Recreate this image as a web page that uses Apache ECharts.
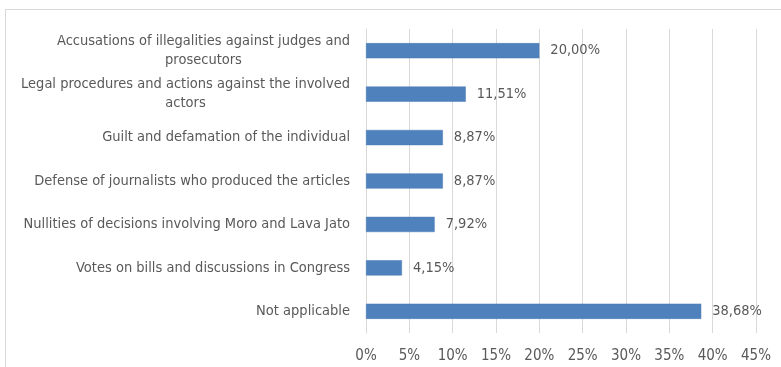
<!DOCTYPE html>
<html>
<head>
<meta charset="utf-8">
<script src="https://cdn.jsdelivr.net/npm/echarts@6/dist/echarts.min.js"></script>
<style>
  html, body { margin: 0; padding: 0; background: #fff; }
  #chart { width: 781px; height: 367px; }
</style>
</head>
<body>
<div id="chart"></div>
<script>
// Topics, listed top to bottom
const categories = [
  'Accusations of illegalities against judges and\nprosecutors',
  'Legal procedures and actions against the involved\nactors',
  'Guilt and defamation of the individual',
  'Defense of journalists who produced the articles',
  'Nullities of decisions involving Moro and Lava Jato',
  'Votes on bills and discussions in Congress',
  'Not applicable'
];
// Share of items per topic, in percent
const shares = [20.00, 11.51, 8.87, 8.87, 7.92, 4.15, 38.68];
// Axis ticks (percent)
const tickMin = 0, tickMax = 45, tickStep = 5;

const FONT = "'DejaVu Sans Condensed', 'Open Sans', sans-serif";
const TEXT = '#595959';
const GRID = '#d9d9d9';

const chart = echarts.init(document.getElementById('chart'), null, { renderer: 'canvas' });
chart.setOption({
  animation: false,
  backgroundColor: '#ffffff',
  graphic: [{
    type: 'rect',
    shape: { x: 5.5, y: 9.5, width: 800, height: 400 },
    style: { fill: 'none', stroke: GRID, lineWidth: 1 },
    silent: true
  }],
  grid: { left: 366, right: 25, top: 29, bottom: 34, containLabel: false },
  xAxis: {
    type: 'value',
    min: tickMin, max: tickMax, interval: tickStep,
    axisLine: { show: false },
    axisTick: { show: false },
    splitLine: { show: true, lineStyle: { color: GRID, width: 1 } },
    axisLabel: {
      color: TEXT, fontFamily: FONT, fontSize: 15, margin: 16,
      formatter: v => v + '%'
    }
  },
  yAxis: {
    type: 'category',
    inverse: true,
    data: categories,
    axisLine: { show: true, lineStyle: { color: GRID } },
    axisTick: { show: false },
    axisLabel: {
      color: TEXT, fontFamily: FONT, fontSize: 14.5, margin: 16,
      align: 'right', lineHeight: 19,
      // each line centred inside the label block
      formatter: v => v.split('\n').map(s => '{c|' + s + '}').join('\n'),
      rich: {
        c: { align: 'center', color: TEXT, fontFamily: FONT, fontSize: 14.5, lineHeight: 19 }
      }
    }
  },
  series: [{
    type: 'bar',
    data: shares,
    barCategoryGap: '65%',
    itemStyle: { color: '#4f81bd', borderColor: '#4a7ab5', borderWidth: 0.5 },
    label: {
      show: true, position: 'right', distance: 11,
      color: TEXT, fontFamily: FONT, fontSize: 14.5,
      formatter: p => p.value.toFixed(2).replace('.', ',') + '%'
    }
  }]
});
</script>
</body>
</html>
